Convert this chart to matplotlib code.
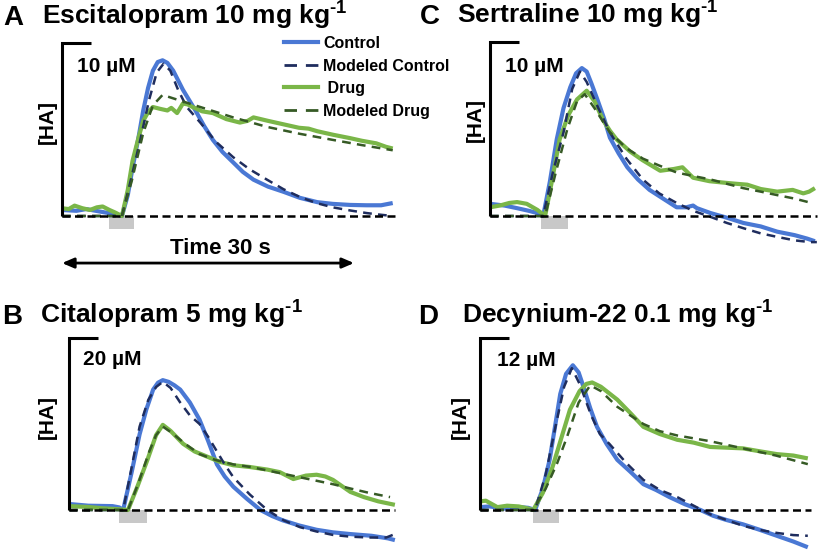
import matplotlib
matplotlib.use('Agg')
import matplotlib.pyplot as plt
from matplotlib.patches import Rectangle
from matplotlib.lines import Line2D

# ---- data (time in s, [HA] in uM) ----
a_ctrl_t = [0, 1.5, 2.5, 4.0, 5.3, 6.2, 6.8, 7.3, 7.9, 8.4, 8.9, 9.4, 9.9, 10.4, 10.9, 11.5, 12.5, 13.8, 14.7, 15.6,
            16.6, 17.7, 18.7, 19.8, 21.3, 22.9, 24.6, 26.4, 28.0, 29.8, 31.5, 33.0, 34.2]
a_ctrl_v = [0.35, 0.3, 0.4, 0.25, 0.12, 0.0, 1.2, 2.8, 4.5, 6.1, 7.4, 8.4, 8.9, 9.0, 8.85, 8.4, 7.3, 6.1, 5.2, 4.4,
            3.7, 3.1, 2.55, 2.1, 1.7, 1.4, 1.05, 0.8, 0.7, 0.64, 0.62, 0.62, 0.75]
a_drug_t = [0, 0.7, 1.3, 2.1, 2.9, 3.6, 4.2, 4.9, 5.5, 6.2, 6.8, 7.3, 7.9, 8.4, 8.9, 9.4, 10.1, 10.9, 11.3, 11.9,
            12.5, 13.0, 13.5, 14.5, 15.6, 17.0, 18.4, 19.2, 19.8, 21.3, 22.9, 24.5, 25.5, 26.4, 28.0, 29.8, 31.0,
            32.5, 33.5, 34.2]
a_drug_v = [0.45, 0.4, 0.6, 0.45, 0.35, 0.5, 0.55, 0.35, 0.2, 0.0, 1.5, 3.2, 4.5, 5.5, 6.0, 6.3, 6.2, 6.1, 6.25, 5.95,
            6.5, 6.45, 6.3, 6.05, 5.95, 5.6, 5.4, 5.5, 5.7, 5.5, 5.3, 5.1, 5.05, 4.9, 4.7, 4.5, 4.35,
            4.2, 4.0, 3.9]
a_mctrl_t = [0, 6.2, 7.0, 8.1, 9.0, 9.8, 10.5, 11.2, 12.0, 12.9, 14.3, 15.9, 17.7, 19.4, 21.2, 22.9, 24.6, 26.3,
             28.0, 29.8, 31.5, 33.0, 34.2]
a_mctrl_v = [0, 0, 1.8, 4.4, 6.7, 8.3, 8.8, 8.4, 7.3, 6.3, 5.4, 4.3, 3.4, 2.7, 2.1, 1.55, 1.1, 0.75,
             0.5, 0.32, 0.17, 0.07, 0.0]
a_mdrug_t = [0, 6.2, 7.2, 8.4, 9.4, 10.4, 11.5, 12.9, 14.3, 17.7, 21.2, 24.6, 28.0, 31.0, 34.2]
a_mdrug_v = [0, 0, 2.0, 4.8, 6.4, 7.0, 6.8, 6.55, 6.3, 5.7, 5.15, 4.75, 4.4, 4.1, 3.8]

b_ctrl_t = [0, 2.0, 4.5, 5.2, 5.6, 6.5, 7.3, 8.0, 8.7, 9.2, 9.7, 10.3, 10.9, 11.5, 12.5, 13.5, 14.4, 15.3, 16.1,
            17.0, 18.4, 19.8, 21.0, 22.1, 23.8, 25.6, 27.3, 29.1, 31.3, 33.0, 33.7]
b_ctrl_v = [0.7, 0.5, 0.45, 0.3, 0.0, 4.5, 8.8, 11.7, 14.0, 14.8, 15.1, 14.9, 14.5, 14.0, 12.5, 10.5, 8.0, 5.3, 3.9,
            2.7, 1.3, 0.0, -0.7, -1.2, -1.8, -2.3, -2.6, -2.8, -3.0, -3.3, -3.5]
b_drug_t = [0, 2.0, 3.5, 5.0, 6.1, 7.1, 8.1, 9.0, 9.7, 10.5, 11.8, 13.0, 14.3, 15.6, 17.0, 18.7, 20.5, 21.8, 23.2,
            24.5, 25.6, 26.5, 27.3, 28.2, 29.1, 30.5, 32.0, 33.7]
b_drug_v = [0.45, 0.35, 0.2, 0.1, 0.0, 2.8, 5.8, 8.7, 9.9, 9.2, 7.7, 6.8, 6.2, 5.6, 5.2, 5.0, 4.7, 4.4, 3.6,
            4.0, 4.1, 3.9, 3.5, 2.8, 2.1, 1.5, 1.0, 0.6]
b_mctrl_t = [0, 5.6, 6.4, 7.3, 8.2, 9.0, 9.7, 10.5, 11.5, 12.5, 13.5, 14.4, 15.3, 16.1, 17.0, 18.7, 20.5, 22.2,
             23.9, 25.6, 27.3, 29.1, 31.0, 32.8, 33.7]
b_mctrl_v = [0, 0, 4.5, 9.7, 12.8, 14.3, 14.9, 14.2, 12.5, 11.0, 10.0, 8.5, 6.8, 5.3, 3.8, 1.8, 0.0, -1.2,
             -2.0, -2.5, -2.9, -3.1, -3.2, -3.2, -2.8]
b_mdrug_t = [0, 6.1, 7.2, 8.3, 9.0, 9.7, 10.6, 12.0, 13.5, 15.2, 17.0, 18.8, 20.5, 22.2, 23.9, 25.6, 27.3, 29.1,
             31.0, 33.2]
b_mdrug_v = [0, 0, 3.2, 6.8, 8.7, 9.7, 9.0, 7.7, 6.5, 5.8, 5.3, 5.0, 4.6, 4.2, 3.8, 3.4, 3.0, 2.5,
             2.0, 1.5]

c_ctrl_t = [0, 1.5, 2.8, 4.0, 4.9, 5.5, 6.2, 6.9, 7.6, 8.3, 8.9, 9.5, 10.0, 10.5, 11.1, 11.8, 12.4, 13.3, 14.2,
            15.3, 16.5, 17.9, 19.3, 20.3, 21.0, 21.4, 22.8, 24.5, 26.2, 28.0, 29.7, 31.5, 32.8, 33.6]
c_ctrl_v = [0.7, 0.6, 0.45, 0.3, 0.17, 0.0, 2.0, 4.4, 6.2, 7.4, 8.2, 8.5, 8.3, 7.6, 6.7, 5.6, 4.5, 3.6, 2.8,
            2.1, 1.5, 1.0, 0.5, 0.5, 0.6, 0.45, 0.17, -0.1, -0.4, -0.6, -0.9, -1.1, -1.3, -1.45]
c_drug_t = [0, 1.0, 2.0, 2.8, 3.8, 4.9, 5.7, 6.4, 7.2, 8.1, 9.0, 10.0, 10.8, 11.7, 12.4, 13.1, 14.5, 15.8, 17.6,
            19.0, 19.9, 21.0, 22.7, 24.5, 25.5, 26.6, 28.0, 29.7, 30.5, 31.3, 32.4, 33.0, 33.6]
c_drug_v = [0.5, 0.6, 0.75, 0.8, 0.7, 0.35, 0.0, 2.0, 4.4, 5.8, 6.7, 7.2, 6.6, 5.5, 4.9, 4.4, 3.7, 3.2, 2.6,
            2.7, 2.8, 2.2, 2.0, 1.9, 1.85, 1.8, 1.55, 1.4, 1.45, 1.5, 1.3, 1.4, 1.6]
c_mctrl_t = [0, 5.5, 6.5, 7.6, 8.5, 9.3, 10.0, 11.2, 12.4, 14.1, 15.8, 17.5, 19.3, 21.0, 22.8, 24.5, 26.2, 28.0,
             29.7, 31.5, 33.1, 33.8]
c_mctrl_v = [0, 0, 2.5, 4.8, 7.3, 8.3, 7.7, 6.2, 4.8, 3.3, 2.1, 1.3, 0.75, 0.3, -0.05, -0.4, -0.7, -1.0,
             -1.2, -1.4, -1.5, -1.5]
c_mdrug_t = [0, 5.7, 6.8, 8.0, 9.0, 9.8, 10.8, 12.4, 14.1, 15.8, 17.5, 19.3, 21.0, 22.8, 24.5, 26.2, 28.0, 29.7,
             31.5, 32.9]
c_mdrug_v = [0, 0, 2.5, 5.0, 6.6, 7.0, 6.2, 4.8, 3.9, 3.3, 2.9, 2.5, 2.3, 2.1, 1.85, 1.6, 1.4, 1.2,
             1.0, 0.8]

d_ctrl_t = [0, 1.0, 2.5, 4.1, 5.0, 5.7, 6.5, 7.2, 7.8, 8.3, 8.9, 9.6, 10.2, 10.7, 11.4, 12.1, 13.1, 14.2, 15.5,
            16.9, 18.2, 19.6, 21.2, 22.8, 24.1, 25.5, 27.2, 29.0, 30.7, 32.4, 33.9]
d_ctrl_v = [0.2, 0.25, 0.1, 0.2, 0.15, 0.0, 1.5, 3.5, 6.0, 8.1, 9.5, 10.1, 9.6, 8.6, 7.1, 5.8, 4.6, 3.5, 2.7,
            1.8, 1.4, 0.9, 0.4, 0.0, -0.4, -0.7, -1.0, -1.4, -1.8, -2.2, -2.6]
d_drug_t = [0, 0.6, 1.8, 2.8, 4.0, 5.0, 5.5, 6.5, 7.5, 8.4, 9.3, 10.3, 11.0, 11.6, 12.5, 14.2, 15.5, 16.9, 18.6,
            20.4, 22.1, 23.8, 25.5, 27.2, 28.9, 30.7, 32.4, 33.9]
d_drug_v = [0.6, 0.65, 0.2, 0.3, 0.25, 0.1, 0.0, 1.2, 3.0, 5.0, 7.0, 8.3, 8.8, 8.9, 8.6, 7.7, 6.8, 5.8, 5.3,
            4.9, 4.7, 4.4, 4.35, 4.3, 4.1, 3.9, 3.8, 3.6]
d_mctrl_t = [0, 5.7, 6.8, 7.8, 8.7, 9.5, 10.3, 11.5, 12.4, 13.4, 15.1, 16.9, 18.6, 20.4, 22.1, 23.8, 25.5, 27.2,
             29.0, 30.7, 32.4, 33.9]
d_mctrl_v = [0, 0, 2.5, 5.8, 8.6, 9.9, 8.8, 6.6, 5.3, 4.6, 3.3, 2.1, 1.4, 0.9, 0.3, -0.3, -0.7, -1.1,
             -1.4, -1.6, -1.75, -1.8]
d_mdrug_t = [0, 5.5, 6.8, 8.0, 9.0, 10.2, 11.4, 12.5, 14.2, 16.9, 18.6, 20.4, 23.8, 27.2, 30.6, 33.9]
d_mdrug_v = [0, 0, 1.5, 3.3, 5.1, 7.5, 8.7, 8.3, 7.2, 6.0, 5.5, 5.2, 4.8, 4.3, 3.8, 3.2]

letters = ['A', 'B', 'C', 'D']
titles = ['Escitalopram 10 mg kg$^{\u2010 1}$', 'Citalopram 5 mg kg$^{\u2010 1}$',
          'Sertraline 10 mg kg$^{\u2010 1}$', 'Decynium-22 0.1 mg kg$^{\u2010 1}$']
scales = [10, 20, 10, 12]
stims = [(4.9, 7.4), (5.2, 8.1), (5.3, 8.1), (5.5, 8.2)]
t_ends = [34.4, 33.7, 33.8, 34.2]
labels = ['Control', 'Modeled Control', ' Drug', 'Modeled Drug']

BLUE = '#4a78d4'
GREEN = '#7ab648'
NAVY = '#1f2d5e'
DKGREEN = '#365a25'

plt.rcParams['font.family'] = ['Liberation Sans', 'DejaVu Sans']
plt.rcParams['font.weight'] = 'bold'
plt.rcParams['mathtext.fontset'] = 'custom'
plt.rcParams['mathtext.rm'] = 'Liberation Sans:bold'
plt.rcParams['mathtext.default'] = 'rm'

W, H = 820, 554
PXS = 9.67  # pixels per second
fig = plt.figure(figsize=(8.2, 5.54), dpi=100)


def fx(x):
    return x / W


def fy(y):
    return 1 - y / H


def panel(x0, base, ppu, left, top, right, bottom):
    ax = fig.add_axes([left / W, 1 - bottom / H, (right - left) / W, (bottom - top) / H])
    ax.set_xlim((left - x0) / PXS, (right - x0) / PXS)
    ax.set_ylim((base - bottom) / ppu, (base - top) / ppu)
    ax.axis('off')
    return ax


# x0, baseline y, px per uM, axes rect (px)
layout = [(62, 216, 17.3, 55, 35, 405, 275),
          (69, 510, 8.6, 62, 330, 405, 554),
          (490, 216, 17.4, 483, 35, 820, 260),
          (480, 510, 14.33, 473, 330, 820, 554)]
data = [(a_ctrl_t, a_ctrl_v, a_mctrl_t, a_mctrl_v, a_drug_t, a_drug_v, a_mdrug_t, a_mdrug_v),
        (b_ctrl_t, b_ctrl_v, b_mctrl_t, b_mctrl_v, b_drug_t, b_drug_v, b_mdrug_t, b_mdrug_v),
        (c_ctrl_t, c_ctrl_v, c_mctrl_t, c_mctrl_v, c_drug_t, c_drug_v, c_mdrug_t, c_mdrug_v),
        (d_ctrl_t, d_ctrl_v, d_mctrl_t, d_mctrl_v, d_drug_t, d_drug_v, d_mdrug_t, d_mdrug_v)]

title_pos = [(3, 42, 25), (2, 40, 324), (420, 457, 24), (418, 462, 324)]
conc_pos = [(77, 72), (83, 365), (505, 72), (497, 366)]
ha_pos = [(47, 122), (47, 417), (475, 120), (460, 417)]

axes = []
for i in range(4):
    x0, base, ppu, l, t, r, b = layout[i]
    ax = panel(x0, base, ppu, l, t, r, b)
    axes.append(ax)
    ct, cv, mct, mcv, dt, dv, mdt, mdv = data[i]
    s0, s1 = stims[i]
    bh = 13 / ppu
    ax.add_patch(Rectangle((s0, -bh), s1 - s0, bh, color='#c8c8c8', lw=0, zorder=1))
    ax.plot(ct, cv, color=BLUE, lw=3, zorder=3, solid_capstyle='butt')
    ax.plot(dt, dv, color=GREEN, lw=3, zorder=3, solid_capstyle='butt')
    ax.plot(mct, mcv, color=NAVY, lw=1.8, ls=(0, (3.5, 2.5)), zorder=4)
    ax.plot(mdt, mdv, color=DKGREEN, lw=1.8, ls=(0, (3.5, 2.5)), zorder=4)
    ax.plot([0, t_ends[i]], [0, 0], color='k', lw=1.8, ls=(0, (3.2, 1.8)), zorder=5)
    ax.plot([3.0, 0, 0], [scales[i], scales[i], 0], color='k', lw=2.2,
            solid_joinstyle='miter', solid_capstyle='butt', zorder=6)

    lx, tx, ty = title_pos[i]
    fig.text(fx(lx), fy(ty), letters[i], fontsize=20, va='baseline')
    fig.text(fx(tx), fy(ty), titles[i], fontsize=19, va='baseline')
    fig.text(fx(conc_pos[i][0]), fy(conc_pos[i][1]), f'{scales[i]} µM', fontsize=15, va='baseline')
    fig.text(fx(ha_pos[i][0]), fy(ha_pos[i][1]), '[HA]', fontsize=15, rotation=90,
             ha='center', va='center')

# legend proxies (longer dashes than in the plot, like the original)
handles = [Line2D([], [], color=BLUE, lw=3),
           Line2D([], [], color=NAVY, lw=2, ls=(0, (4.5, 3.2))),
           Line2D([], [], color=GREEN, lw=3),
           Line2D([], [], color=DKGREEN, lw=2, ls=(0, (4.5, 3.2)))]
ax = axes[0]
ax.legend(handles, labels, loc='upper left', bbox_to_anchor=(fx(284), fy(36)),
          bbox_transform=fig.transFigure, frameon=False, fontsize=11.5, handlelength=2.1,
          handletextpad=0.35, labelspacing=0.47, borderpad=0, borderaxespad=0)
ax.annotate('', xy=(0, -2.72), xytext=(30.2, -2.72),
            arrowprops=dict(arrowstyle='<|-|>,head_length=0.7,head_width=0.3', color='k', lw=2,
                            shrinkA=0, shrinkB=0), annotation_clip=False)
fig.text(fx(220), fy(254), 'Time 30 s', fontsize=16, ha='center', va='baseline')

fig.savefig('out.png', dpi=100)
